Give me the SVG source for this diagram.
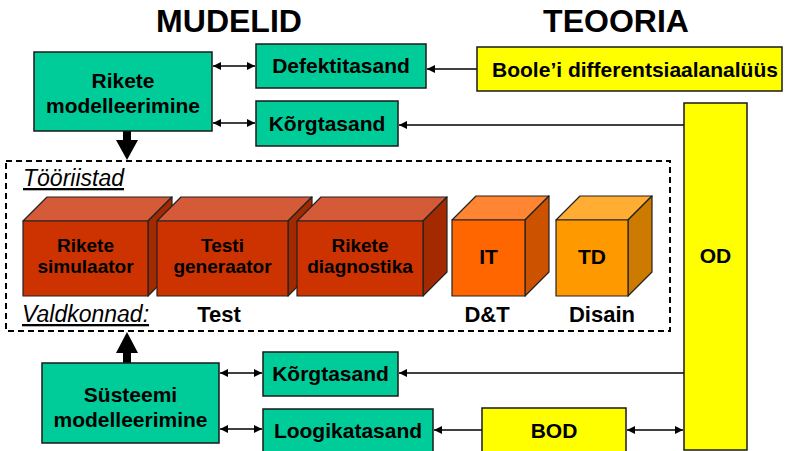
<svg xmlns="http://www.w3.org/2000/svg" width="791" height="451" viewBox="0 0 791 451">
<style>
text{font-family:"Liberation Sans",Arial,sans-serif;font-weight:bold;fill:#000}
.t{font-size:21px;text-anchor:middle}
.c{font-size:19px;text-anchor:middle}
.h{font-size:32px;text-anchor:middle}
.d{font-size:22px;text-anchor:middle}
.i{font-size:23px;font-weight:normal;font-style:italic;text-decoration:underline}
.g{fill:#00CC99;stroke:#1a1a1a;stroke-width:1.5}
.y{fill:#FFFF00;stroke:#1a1a1a;stroke-width:1.5}
.e{stroke:#222;stroke-width:1.2;stroke-linejoin:round}
.ln{stroke:#000;stroke-width:1.5;fill:none}
</style>
<defs>
<marker id="ah" viewBox="0 0 10 10" refX="10" refY="5" markerWidth="10" markerHeight="8" orient="auto-start-reverse" markerUnits="userSpaceOnUse"><path d="M0,0 L10,5 L0,10 z" fill="#000"/></marker>
</defs>
<text class="h" x="229" y="32">MUDELID</text>
<text class="h" x="616" y="32">TEOORIA</text>

<g id="frame">
<rect x="6" y="161" width="664" height="170" fill="none" stroke="#000" stroke-width="2" stroke-dasharray="6,4"/>
<text class="i" x="23" y="186">Tööriistad</text>
<text class="i" x="22" y="322">Valdkonnad:</text>
</g>

<g id="connectors">
<path class="ln" d="M213,66 H255" marker-start="url(#ah)" marker-end="url(#ah)"/>
<path class="ln" d="M213,123 H255" marker-start="url(#ah)" marker-end="url(#ah)"/>
<path class="ln" d="M477,69 H427" marker-end="url(#ah)"/>
<path class="ln" d="M684,125 H399" marker-end="url(#ah)"/>
<path class="ln" d="M220,373 H262" marker-start="url(#ah)" marker-end="url(#ah)"/>
<path class="ln" d="M220,429 H262" marker-start="url(#ah)" marker-end="url(#ah)"/>
<path class="ln" d="M684,373 H399" marker-end="url(#ah)"/>
<path class="ln" d="M482,430 H434" marker-end="url(#ah)"/>
<path class="ln" d="M627,430 H683" marker-start="url(#ah)" marker-end="url(#ah)"/>
<polygon points="123,131 131,131 131,140 138,140 127,160 116,140 123,140" fill="#000"/>
<polygon points="127,332 138,353 131,353 131,363 123,363 123,353 116,353" fill="#000"/>
</g>

<g id="rikete-modelleerimine">
<rect class="g" x="34" y="52" width="178" height="79"/>
<text class="t" x="123" y="88">Rikete</text>
<text class="t" x="123" y="113">modelleerimine</text>
</g>
<g id="defektitasand">
<rect class="g" x="256" y="44" width="170" height="44"/>
<text class="t" x="341" y="73">Defektitasand</text>
</g>
<g id="korgtasand-top">
<rect class="g" x="256" y="101" width="142" height="45"/>
<text class="t" x="327" y="131">Kõrgtasand</text>
</g>
<g id="boole">
<rect class="y" x="477" y="47" width="305" height="44"/>
<text class="t" x="635" y="77">Boole’i differentsiaalanalüüs</text>
</g>
<g id="od">
<rect class="y" x="684" y="103" width="63" height="347"/>
<text class="t" x="715.5" y="263">OD</text>
</g>

<g id="rikete-simulaator">
<polygon class="e" points="23,221 47,197 172,197 148,221" fill="#D55B38"/>
<polygon class="e" points="148,221 172,197 172,272 148,296" fill="#A32900"/>
<rect class="e" x="23" y="221" width="125" height="75" fill="#CC3300"/>
<text class="c" x="85.5" y="252">Rikete</text>
<text class="c" x="85.5" y="273">simulaator</text>
</g>
<g id="testi-generaator">
<polygon class="e" points="157,221 181,197 312,197 288,221" fill="#D55B38"/>
<polygon class="e" points="288,221 312,197 312,272 288,296" fill="#A32900"/>
<rect class="e" x="157" y="221" width="131" height="75" fill="#CC3300"/>
<text class="c" x="222.5" y="252">Testi</text>
<text class="c" x="222.5" y="273">generaator</text>
</g>
<g id="rikete-diagnostika">
<polygon class="e" points="297,221 321,197 447,197 423,221" fill="#D55B38"/>
<polygon class="e" points="423,221 447,197 447,272 423,296" fill="#A32900"/>
<rect class="e" x="297" y="221" width="126" height="75" fill="#CC3300"/>
<text class="c" x="360" y="252">Rikete</text>
<text class="c" x="360" y="273">diagnostika</text>
</g>
<g id="it">
<polygon class="e" points="452,220 476,196 549,196 525,220" fill="#FF8533"/>
<polygon class="e" points="525,220 549,196 549,272 525,296" fill="#CC5200"/>
<rect class="e" x="452" y="220" width="73" height="76" fill="#FF6600"/>
<text class="t" x="488.5" y="264">IT</text>
</g>
<g id="td">
<polygon class="e" points="556,220 580,196 652,196 628,220" fill="#FFAD33"/>
<polygon class="e" points="628,220 652,196 652,272 628,296" fill="#CC7A00"/>
<rect class="e" x="556" y="220" width="72" height="76" fill="#FF9900"/>
<text class="t" x="592" y="264">TD</text>
</g>
<text class="d" x="219" y="322">Test</text>
<text class="d" x="487" y="322">D&amp;T</text>
<text class="d" x="602" y="322">Disain</text>

<g id="susteemi-modelleerimine">
<rect class="g" x="42" y="363" width="177" height="80"/>
<text class="t" x="130.5" y="402">Süsteemi</text>
<text class="t" x="130.5" y="427">modelleerimine</text>
</g>
<g id="korgtasand-bottom">
<rect class="g" x="263" y="352" width="135" height="44"/>
<text class="t" x="330.5" y="381">Kõrgtasand</text>
</g>
<g id="loogikatasand">
<rect class="g" x="263" y="409" width="170" height="45"/>
<text class="t" x="348" y="438">Loogikatasand</text>
</g>
<g id="bod">
<rect class="y" x="482" y="408" width="144" height="46"/>
<text class="t" x="554" y="438">BOD</text>
</g>
</svg>
